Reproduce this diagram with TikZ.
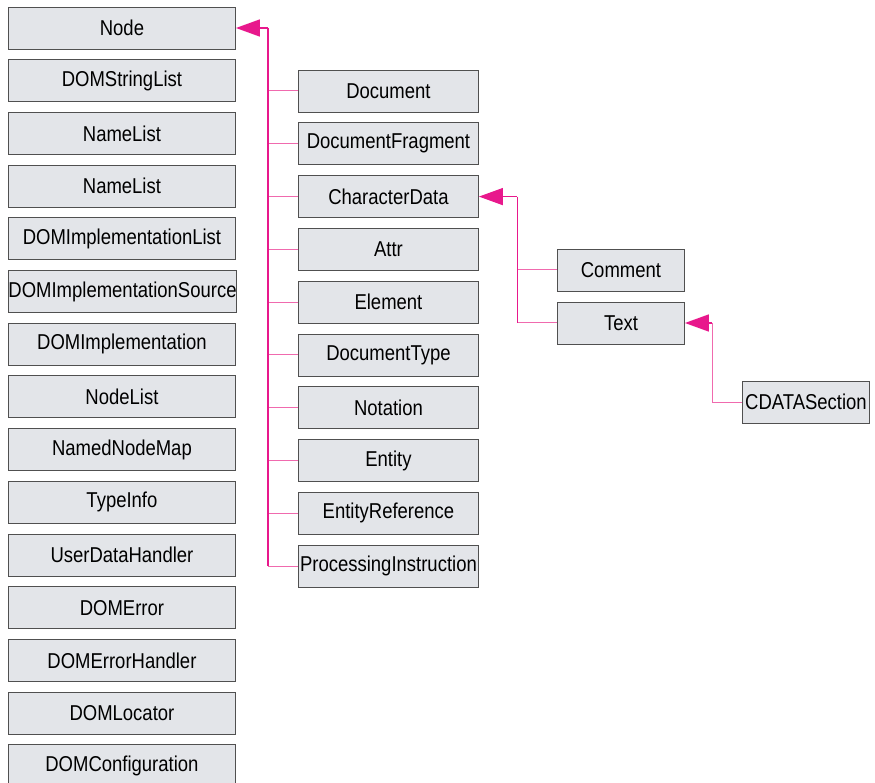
\documentclass[tikz,border=0pt]{standalone}
\usepackage{fontspec}
\setmainfont{Liberation Sans}[FakeStretch=0.86]
\usetikzlibrary{arrows.meta}
\definecolor{boxfill}{HTML}{E3E5E9}
\definecolor{boxline}{HTML}{505050}
\definecolor{mag}{HTML}{E8188C}
\definecolor{pinkl}{HTML}{F06AAE}
\begin{document}
\begin{tikzpicture}[x=1pt,y=-1pt,
  cls/.style={draw=boxline,fill=boxfill,line width=0.9pt,minimum height=42pt,inner sep=0pt,
    font=\fontsize{21.5}{23}\selectfont,anchor=west},
  lcls/.style={cls,minimum width=227pt},
  mcls/.style={cls,minimum width=180pt},
  rcls/.style={cls,minimum width=127pt},
  trunk/.style={draw=mag,line width=1.5pt},
  branch/.style={draw=pinkl,line width=1pt},
  inh/.style={-{Triangle[length=24pt,width=17pt]},draw=mag,fill=mag,line width=1.5pt}]
\useasboundingbox (0,0) rectangle (875,783);
% left column
\node[lcls] (node) at (8,28) {Node};
\node[lcls] (l1) at (8,80.7) {DOMStringList};
\node[lcls] (l2) at (8,133.4) {NameList};
\node[lcls] (l3) at (8,186.1) {NameList};
\node[lcls] (l4) at (8,238.8) {DOMImplementationList};
\node[lcls] (l5) at (8,291.5) {DOMImplementationSource};
\node[lcls] (l6) at (8,344.2) {DOMImplementation};
\node[lcls] (l7) at (8,396.9) {NodeList};
\node[lcls] (l8) at (8,449.6) {NamedNodeMap};
\node[lcls] (l9) at (8,502.3) {TypeInfo};
\node[lcls] (l10) at (8,555) {UserDataHandler};
\node[lcls] (l11) at (8,607.7) {DOMError};
\node[lcls] (l12) at (8,660.4) {DOMErrorHandler};
\node[lcls] (l13) at (8,713.1) {DOMLocator};
\node[lcls] (l14) at (8,765.8) {DOMConfiguration};
% middle column
\node[mcls] (m0) at (298,91) {Document};
\node[mcls] (m1) at (298,143.8) {DocumentFragment};
\node[mcls] (m2) at (298,196.6) {CharacterData};
\node[mcls] (m3) at (298,249.4) {Attr};
\node[mcls] (m4) at (298,302.2) {Element};
\node[mcls] (m5) at (298,355) {DocumentType};
\node[mcls] (m6) at (298,407.8) {Notation};
\node[mcls] (m7) at (298,460.6) {Entity};
\node[mcls] (m8) at (298,513.4) {EntityReference};
\node[mcls] (m9) at (298,566.2) {ProcessingInstruction};
% right
\node[rcls] (comment) at (557,270) {Comment};
\node[rcls] (text) at (557,323) {Text};
\node[rcls] (cdata) at (742,402) {CDATASection};
% connectors
\coordinate (j0) at (268,28);
\coordinate (j1) at (517,196.6);
\coordinate (j2) at (712,323);
\foreach \m in {m0,m1,m2,m3,m4,m5,m6,m7,m8,m9}{
  \draw[branch] (\m.west) -- (j0 |- \m.west);
}
\draw[trunk] (j0 |- m9.west) -- (j0);
\draw[inh] (j0) -- (node.east);
\draw[branch] (comment.west) -- (j1 |- comment.west);
\draw[branch] (text.west) -- (j1 |- text.west);
\draw[trunk,line width=1pt] (j1 |- text.west) -- (j1);
\draw[inh] (j1) -- (m2.east);
\draw[branch] (cdata.west) -- (j2 |- cdata.west) -- (j2);
\draw[inh] (j2) -- (text.east);
\end{tikzpicture}
\end{document}
